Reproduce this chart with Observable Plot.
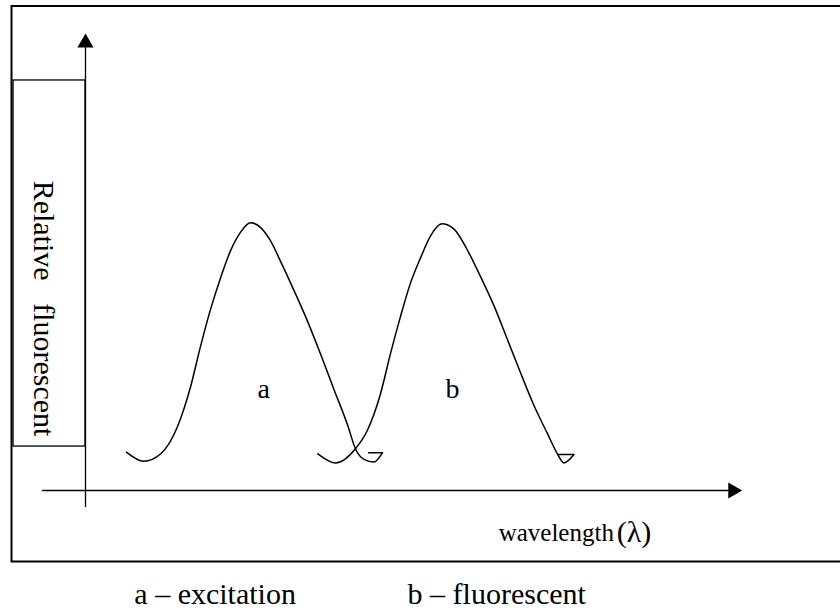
<!DOCTYPE html>
<html><head><meta charset="utf-8">
<script src="https://cdn.jsdelivr.net/npm/d3@7"></script>
<script src="https://cdn.jsdelivr.net/npm/@observablehq/plot@0.6"></script>
<style>html,body{margin:0;padding:0;background:#fff;overflow:hidden}</style>
</head><body><div id="chart"></div>
<script>
// Excitation curve (a): wavelength (arbitrary units) vs relative intensity (peak ≈ 100)
const excitationX = [6.2, 8.8, 11.4, 13.9, 15.9, 17.4, 18.9, 20.5, 22.0, 23.5, 25.0, 26.5, 28.0, 29.5, 31.6, 33.6, 35.6, 37.6, 39.7, 40.9, 42.2, 43.7, 45.0];
const excitationY = [14.3, 10.9, 13.7, 23.6, 38.5, 53.5, 67.2, 79.6, 89.6, 96.4, 99.9, 98.2, 93.3, 85.8, 74.6, 63.4, 51.0, 38.0, 24.5, 15.6, 11.6, 10.6, 14.1];
const excitationTailX = [45.0, 42.9];
const excitationTailY = [14.1, 14.1];
// Fluorescent curve (b)
const fluorescentX = [35.2, 37.9, 40.9, 42.7, 44.7, 46.2, 47.7, 49.2, 50.8, 52.3, 54.0, 55.8, 57.8, 59.8, 61.9, 63.9, 65.9, 67.9, 70.0, 71.5, 72.5, 74.0];
const fluorescentY = [13.7, 10.3, 15.6, 22.4, 36.1, 51.0, 64.7, 77.1, 87.0, 95.1, 99.5, 97.6, 90.0, 80.1, 68.9, 56.5, 44.0, 32.0, 21.2, 13.7, 10.3, 13.4];
const fluorescentTailX = [74.0, 71.7];
const fluorescentTailY = [13.4, 13.4];
// Axis extents (data units)
const xAxisStart = -6.5, xAxisEnd = 99.5;
const yAxisStart = -6.3, yAxisEnd = 170.5;
// Curve labels
const curveLabels = ["a", "b"];
const curveLabelX = [27.0, 55.6];
const curveLabelY = [37.7, 37.7];
// Texts
const yTitle = "Relative   fluorescent";
const yTitleX = -6.4, yTitleY = 67.9;
const xTitle = "wavelength";
const xTitleSymbol = "(λ)";
const legendItems = ["a – excitation", "b – fluorescent"];
const legendX = [7.4, 48.8];
const legendY = -38.6;
// Box around the y title
const yTitleBox = {x1: -10.9, x2: 0, y1: 16.4, y2: 153};

const zip = (xs, ys) => xs.map((x, i) => ({x, y: ys[i]}));
const serif = "'Liberation Serif','Times New Roman',Times,serif";

const chart = Plot.plot({
  width: 840, height: 609,
  marginLeft: 11, marginTop: 5.5, marginRight: 0, marginBottom: 48,
  style: {fontFamily: serif, background: "white", overflow: "hidden", maxWidth: "none"},
  x: {domain: [0, 100], range: [85, 745], axis: null},
  y: {domain: [0, 100], range: [490, 222], axis: null},
  marks: [
    Plot.frame({stroke: "black", strokeWidth: 2, insetRight: -10}),
    Plot.rect([yTitleBox], {x1: "x1", x2: "x2", y1: "y1", y2: "y2", fill: "none", stroke: "black", strokeWidth: 1.3}),
    Plot.ruleX([0], {y1: yAxisStart, y2: yAxisEnd - 4, stroke: "black", strokeWidth: 1.3}),
    Plot.ruleY([0], {x1: xAxisStart, x2: xAxisEnd - 2, stroke: "black", strokeWidth: 1.3}),
    Plot.dot([{x: 0, y: yAxisEnd}], {x: "x", y: "y", symbol: "triangle", r: 6, fill: "black", dy: 9.3}),
    Plot.dot([{x: xAxisEnd, y: 0}], {x: "x", y: "y", symbol: "triangle", r: 6, fill: "black", rotate: 90, dx: -9.3}),
    Plot.line(zip(excitationX, excitationY), {x: "x", y: "y", curve: "monotone-x", stroke: "black", strokeWidth: 1.5}),
    Plot.line(zip(excitationTailX, excitationTailY), {x: "x", y: "y", stroke: "black", strokeWidth: 1.5}),
    Plot.line(zip(fluorescentX, fluorescentY), {x: "x", y: "y", curve: "monotone-x", stroke: "black", strokeWidth: 1.5}),
    Plot.line(zip(fluorescentTailX, fluorescentTailY), {x: "x", y: "y", stroke: "black", strokeWidth: 1.5}),
    Plot.text(curveLabels.map((t, i) => ({t, x: curveLabelX[i], y: curveLabelY[i]})), {x: "x", y: "y", text: "t", fontSize: 28, fill: "black"}),
    Plot.text([{t: yTitle, x: yTitleX, y: yTitleY}], {x: "x", y: "y", text: "t", rotate: 90, fontSize: 30, fill: "black"}),
    Plot.text([{t: xTitle, x: 62.6, y: -15.7}], {x: "x", y: "y", text: "t", textAnchor: "start", fontSize: 25, fill: "black"}),
    Plot.text([{t: xTitleSymbol, x: 80.5, y: -15.7}], {x: "x", y: "y", text: "t", textAnchor: "start", fontSize: 30, fill: "black"}),
    Plot.text(legendItems.map((t, i) => ({t, x: legendX[i], y: legendY})), {x: "x", y: "y", text: "t", textAnchor: "start", fontSize: 30, fill: "black"})
  ]
});
chart.querySelectorAll("text").forEach(t => t.setAttribute("xml:space", "preserve"));
chart.style.whiteSpace = "pre";
document.getElementById("chart").append(chart);
</script>
</body></html>
